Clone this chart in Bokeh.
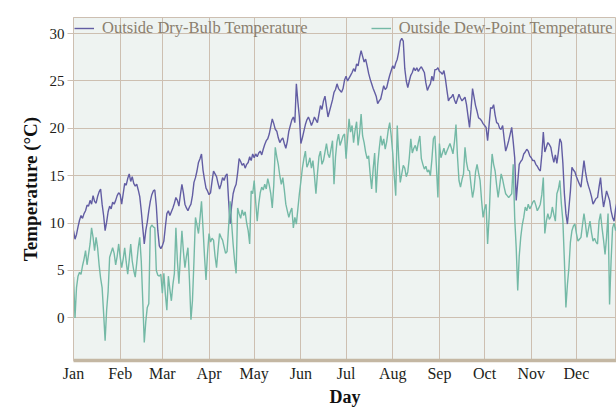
from bokeh.plotting import figure
from bokeh.models import Range1d, FixedTicker, Legend, LegendItem
from bokeh.embed import file_html
from bokeh.resources import INLINE

# ---------------- data ----------------
month_labels = ["Jan", "Feb", "Mar", "Apr", "May", "Jun",
                "Jul", "Aug", "Sep", "Oct", "Nov", "Dec"]
month_starts = [0, 31, 59, 90, 120, 151, 181, 212, 243, 273, 304, 334]
temp_ticks = [0, 5, 10, 15, 20, 25, 30]

dry_bulb_jan = [9.2, 8.3, 8.8, 9.6, 10.3, 10.8, 10.5, 11.0, 11.3, 11.9, 11.8, 12.4, 12.0, 12.9, 12.3, 12.1,
                12.8, 13.3, 13.6, 12.0, 10.8, 9.2, 10.1, 11.2, 11.8, 11.5, 12.2, 12.0, 12.4, 12.9, 13.2]
dry_bulb_feb = [13.0, 12.0, 13.1, 14.2, 14.0, 14.7, 15.2, 14.4, 14.9, 14.2, 13.9, 14.1, 13.5, 12.8,
                11.3, 9.5, 7.8, 9.2, 10.1, 11.3, 12.3, 13.0, 13.4, 13.5, 11.8, 9.2, 7.6, 7.3]
dry_bulb_mar = [7.6, 8.1, 9.6, 11.0, 11.3, 10.8, 11.2, 11.6, 12.1, 12.7, 12.4, 11.8, 13.0, 14.1, 13.2, 12.0,
                11.6, 11.3, 11.7, 12.0, 12.9, 14.3, 14.8, 15.5, 16.4, 16.8, 17.3, 15.6, 14.6, 13.7, 13.4]
dry_bulb_apr = [13.0, 13.2, 14.4, 15.5, 15.2, 14.9, 14.2, 13.6, 14.1, 14.8, 14.5, 15.0, 15.2, 12.4, 9.9,
                11.8, 13.1, 13.7, 14.1, 15.3, 16.8, 16.5, 16.1, 16.3, 15.8, 16.2, 16.4, 17.0, 16.6, 17.3]
dry_bulb_may = [16.9, 17.3, 17.0, 17.4, 17.6, 17.2, 17.8, 18.3, 18.7, 18.9, 19.4, 20.2, 21.0, 20.5, 19.9,
                19.7, 19.0, 18.5, 18.8, 19.0, 18.4, 17.9, 18.6, 19.7, 20.3, 20.9, 21.2, 20.6, 24.7, 22.8, 21.2]
dry_bulb_jun = [18.4, 19.0, 19.7, 20.4, 20.9, 21.2, 20.8, 20.3, 20.7, 21.2, 20.9, 20.6, 21.5, 22.4, 22.0,
                22.9, 23.4, 22.3, 21.2, 21.8, 22.4, 23.0, 23.8, 24.1, 24.7, 24.2, 24.0, 23.8, 24.2, 25.1]
dry_bulb_jul = [25.5, 25.0, 25.3, 25.6, 25.9, 26.3, 26.0, 26.8, 26.6, 27.5, 28.2, 27.6, 27.0, 27.3, 26.6,
                25.8, 25.2, 24.7, 24.2, 23.8, 23.4, 22.6, 22.9, 23.1, 23.8, 24.5, 24.1, 24.3, 25.0, 25.6, 26.1]
dry_bulb_aug = [26.6, 26.3, 26.9, 27.3, 28.1, 29.2, 29.5, 29.2, 26.3, 25.0, 24.3, 25.0, 25.6, 25.9, 26.4,
                26.1, 26.4, 26.0, 26.3, 26.5, 26.2, 25.9, 24.8, 24.0, 24.4, 24.7, 25.5, 25.0, 26.2, 26.2, 26.4]
dry_bulb_sep = [26.0, 25.9, 25.7, 26.1, 25.2, 24.0, 22.9, 23.2, 23.3, 23.6, 23.0, 22.6, 23.1, 23.6, 23.2,
                22.9, 23.1, 23.3, 22.5, 21.3, 20.1, 22.0, 24.2, 23.3, 22.4, 21.8, 21.1, 21.0, 20.8, 20.5]
dry_bulb_oct = [20.3, 20.1, 18.7, 20.4, 22.2, 22.1, 22.5, 21.4, 20.6, 20.5, 20.0, 19.9, 20.3, 18.9, 17.6,
                18.1, 18.7, 19.4, 20.1, 18.6, 16.9, 12.4, 14.3, 16.2, 16.5, 16.7, 17.3, 17.5, 17.8, 17.6, 17.1]
dry_bulb_nov = [16.9, 16.6, 16.6, 16.2, 16.0, 15.7, 15.5, 17.2, 19.6, 17.5, 18.0, 18.5, 18.3, 18.0, 17.1,
                16.4, 17.2, 16.3, 17.5, 18.9, 18.5, 16.3, 13.1, 11.0, 9.9, 11.6, 13.4, 15.9, 15.6, 15.4]
dry_bulb_dec = [14.9, 14.5, 14.1, 13.8, 15.2, 16.6, 15.4, 14.5, 13.9, 13.4, 12.8, 12.0, 12.3, 12.6, 12.7,
                13.8, 14.8, 13.0, 11.7, 12.5, 13.4, 12.9, 12.4, 11.3, 10.6, 10.2, 11.5, 12.3, 12.0, 11.6, 11.8]

dew_point_jan = [4.3, 0.0, 3.2, 4.4, 4.8, 4.6, 5.5, 6.2, 7.1, 5.6, 6.7, 7.8, 9.5, 8.5, 7.1, 8.5,
                 7.4, 5.6, 4.2, 3.2, 0.5, -2.4, 0.8, 2.8, 6.4, 6.9, 7.4, 6.8, 5.6, 6.5, 7.8]
dew_point_feb = [6.4, 5.3, 6.2, 7.4, 5.9, 4.6, 6.1, 7.8, 6.0, 5.0, 4.3, 5.8, 7.4, 8.5,
                 6.0, 1.8, -2.6, -0.4, 1.1, 1.5, 9.5, 9.8, 9.6, 9.5, 5.0, 4.5, 4.4, 4.6]
dew_point_mar = [2.6, 4.7, 2.5, 0.8, 4.4, 3.0, 1.8, 3.5, 4.7, 9.5, 6.0, 3.6, 6.5, 9.2, 7.0, 5.3,
                 6.5, 7.4, 4.0, -0.2, 1.8, 6.0, 10.6, 9.8, 8.9, 10.5, 12.3, 9.5, 6.5, 4.0, 6.8]
dew_point_apr = [8.9, 8.0, 8.4, 8.2, 6.5, 5.3, 7.2, 8.9, 8.5, 8.2, 7.5, 6.8, 7.0, 9.6, 12.3,
                 10.0, 7.8, 6.0, 4.7, 11.6, 11.0, 10.5, 11.4, 10.8, 11.2, 10.0, 9.2, 7.8, 13.4, 13.1]
dew_point_may = [14.5, 12.2, 10.2, 12.0, 13.2, 13.8, 13.5, 14.1, 13.6, 14.7, 14.0, 13.1, 11.6, 14.0, 18.0,
                 17.0, 16.2, 15.0, 14.1, 14.8, 13.5, 12.0, 11.3, 10.6, 11.2, 11.6, 9.5, 10.6, 9.9, 11.5, 13.1]
dew_point_jun = [14.4, 15.8, 16.8, 17.6, 15.9, 16.3, 16.9, 15.8, 16.6, 15.0, 13.1, 15.2, 17.0, 17.6, 16.2,
                 16.6, 17.5, 18.4, 17.3, 16.9, 17.8, 18.7, 14.1, 17.0, 18.6, 19.4, 18.2, 18.7, 19.2, 19.4]
dew_point_jul = [16.8, 18.9, 21.0, 19.6, 20.3, 18.5, 19.8, 20.7, 18.2, 19.5, 21.5, 19.2, 18.5, 17.5, 16.8,
                 17.1, 15.2, 13.6, 15.7, 17.4, 13.2, 16.1, 17.8, 19.2, 18.2, 18.9, 17.8, 18.6, 19.8, 20.6, 19.2]
dew_point_aug = [17.4, 15.0, 12.9, 20.3, 16.8, 14.3, 15.2, 16.1, 15.8, 14.9, 15.4, 16.9, 18.9, 17.4, 17.9,
                 18.2, 17.6, 18.5, 19.2, 16.8, 16.2, 15.7, 16.0, 15.4, 15.6, 15.0, 16.7, 18.9, 19.2, 16.0, 12.7]
dew_point_sep = [18.4, 16.9, 17.4, 17.9, 17.2, 17.6, 18.0, 18.4, 17.9, 17.3, 18.6, 20.4, 17.0, 14.5, 13.8,
                 14.6, 15.2, 18.0, 16.4, 15.6, 15.5, 14.0, 12.7, 13.6, 15.4, 16.2, 15.3, 14.5, 12.4, 10.6]
dew_point_oct = [11.5, 12.0, 7.8, 10.6, 14.6, 17.3, 16.2, 15.5, 14.0, 12.7, 13.9, 15.2, 14.6, 13.8, 13.1,
                 12.9, 12.7, 12.9, 13.1, 16.2, 10.5, 7.4, 2.9, 6.5, 8.5, 9.8, 10.6, 11.7, 11.3, 12.0, 11.5]
dew_point_nov = [11.8, 12.2, 12.4, 11.9, 11.3, 11.6, 12.0, 13.0, 14.8, 8.9, 10.2, 11.0, 10.4, 10.7, 11.7,
                 10.9, 10.2, 13.1, 13.6, 14.5, 12.0, 10.2, 6.0, 1.1, 3.5, 5.3, 8.0, 9.2, 9.7, 9.9]
dew_point_dec = [8.9, 8.1, 8.3, 8.5, 9.8, 11.0, 9.9, 8.5, 9.4, 10.2, 9.0, 8.1, 8.4, 8.0, 7.8,
                 10.2, 11.0, 9.5, 8.2, 6.7, 8.5, 11.0, 1.4, 6.0, 9.5, 10.0, 9.2, 9.8, 10.1, 9.5, 9.8]

dry_bulb = (dry_bulb_jan + dry_bulb_feb + dry_bulb_mar + dry_bulb_apr + dry_bulb_may + dry_bulb_jun
            + dry_bulb_jul + dry_bulb_aug + dry_bulb_sep + dry_bulb_oct + dry_bulb_nov + dry_bulb_dec)
dew_point = (dew_point_jan + dew_point_feb + dew_point_mar + dew_point_apr + dew_point_may + dew_point_jun
             + dew_point_jul + dew_point_aug + dew_point_sep + dew_point_oct + dew_point_nov + dew_point_dec)
days = list(range(len(dry_bulb)))

# ---------------- styling ----------------
SERIF = "Liberation Serif"
TAN = "#cdbfb1"
DRY_COLOR = "#625da3"
DEW_COLOR = "#74b9a6"

p = figure(width=616, height=410, output_backend="svg", toolbar_location=None,
           x_range=Range1d(0, 360.6), y_range=Range1d(-4.5, 31.7),
           min_border_left=73, min_border_right=0, min_border_top=17, min_border_bottom=50,
           background_fill_color="#eef3f1", border_fill_color="white")
p.outline_line_color = TAN
p.outline_line_width = 1

dry_r = p.line(days, dry_bulb, line_color=DRY_COLOR, line_width=1.4)
dew_r = p.line(days, dew_point, line_color=DEW_COLOR, line_width=1.4)

# axes
p.xaxis.ticker = FixedTicker(ticks=month_starts)
p.xaxis.major_label_overrides = {m: lab for m, lab in zip(month_starts, month_labels)}
p.yaxis.ticker = FixedTicker(ticks=temp_ticks)
p.xaxis.axis_label = "Day"
p.yaxis.axis_label = "Temperature (\u00b0C)"

for ax in (p.xaxis[0], p.yaxis[0]):
    ax.axis_label_text_font = SERIF
    ax.axis_label_text_font_style = "bold"
    ax.axis_label_text_color = "#111111"
    ax.major_label_text_font = SERIF
    ax.major_label_text_color = "#221e1a"
    ax.minor_tick_line_color = None
    ax.major_tick_in = 0

p.xaxis.axis_label_text_font_size = "18px"
p.yaxis.axis_label_text_font_size = "19px"
p.xaxis.major_label_text_font_size = "16px"
p.yaxis.major_label_text_font_size = "15px"

p.xaxis.axis_line_color = "#c4b7a3"
p.xaxis.axis_line_width = 3.5
p.xaxis.major_tick_out = 0
p.xaxis.major_tick_line_color = None
p.xaxis.major_label_standoff = 4
p.xaxis.axis_label_standoff = 2

p.yaxis.axis_line_color = TAN
p.yaxis.major_tick_out = 6
p.yaxis.major_tick_line_color = TAN
p.yaxis.major_label_standoff = 3
p.yaxis.axis_label_standoff = 6

p.xgrid.grid_line_color = TAN
p.ygrid.grid_line_color = TAN

legend = Legend(items=[LegendItem(label="Outside Dry-Bulb Temperature", renderers=[dry_r]),
                       LegendItem(label="Outside Dew-Point Temperature", renderers=[dew_r])],
                location="top_left", orientation="horizontal",
                margin=0, padding=1, spacing=63, glyph_width=20, glyph_height=14,
                label_height=14, label_standoff=8,
                label_text_font=SERIF, label_text_font_size="16.5px", label_text_color="#8b7f6e",
                background_fill_alpha=0, border_line_alpha=0)
p.add_layout(legend)

open("out.html", "w").write(file_html(p, INLINE))
